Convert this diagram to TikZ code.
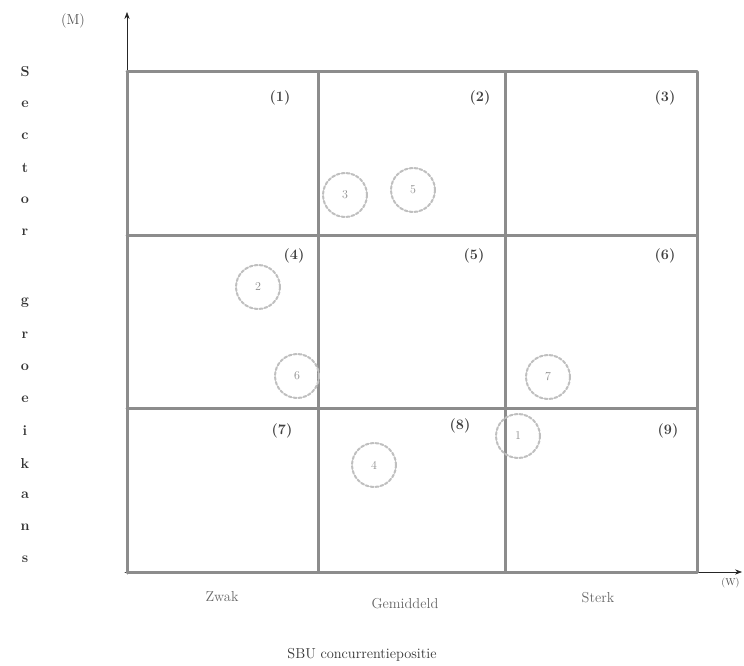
\documentclass[tikz,border=0pt]{standalone}
\usetikzlibrary{arrows.meta, positioning}
\definecolor{gridgray}{HTML}{8C8C8C}
\tikzset{
  >={Stealth[length=7pt]},
  every picture/.style={line cap=round, line join=round},
  axis/.style={->, semithick, black!85},
  cellline/.style={gridgray, line width=3pt},
  celltag/.style={font=\Large\bfseries, black!75},
  % dotted rings round the numbered units
  unit/.style={circle, draw=black!25, densely dashed, line width=2pt, minimum size=44pt, inner sep=0pt, font=\large, text=black!45},
  ticklab/.style={font=\Large, black!60},
  stacklab/.style={font=\Large\bfseries, black!80},
}
\begin{document}
\begin{tikzpicture}[x=1pt, y=-1pt]
  \useasboundingbox (0,0) rectangle (744,666);
  % axes
  \draw[axis] (127,574) -- (127,12);
  \draw[axis] (125,572) -- (742,572);
  \node[font=\Large, black!70] (ylab) at (73,21) {(M)};
  \node[font=\normalsize, black!70, anchor=east] (xlab) at (743,583) {(W)};
  % 3x3 matrix
  \foreach \x in {127,318,505,697}
    \draw[cellline] (\x,72) -- (\x,572);
  \foreach \y in {72,235,408,572}
    \draw[cellline] (127,\y) -- (697,\y);
  % cell numbers
  \node[celltag] (c1) at (280,98) {(1)};
  \node[celltag] (c2) at (480,98) {(2)};
  \node[celltag] (c3) at (665,98) {(3)};
  \node[celltag] (c4) at (294,256) {(4)};
  \node[celltag] (c5) at (474,256) {(5)};
  \node[celltag] (c6) at (665,256) {(6)};
  \node[celltag] (c7) at (282,431) {(7)};
  \node[celltag] (c8) at (460,426) {(8)};
  \node[celltag] (c9) at (668,431) {(9)};
  % business units
  \node[unit] (u1) at (518,436) {1};
  \node[unit] (u2) at (258,287) {2};
  \node[unit] (u3) at (345,195) {3};
  \node[unit] (u4) at (374,465) {4};
  \node[unit] (u5) at (413,190) {5};
  \node[unit] (u6) at (297,376) {6};
  \node[unit] (u7) at (548,377) {7};
  % axis texts
  \node[ticklab] (lo) at (222,597) {Zwak};
  \node[ticklab] (mid) at (405,604) {Gemiddeld};
  \node[ticklab] (hi) at (598,598) {Sterk};
  \node[ticklab, black!80] (xtitle) at (362,655) {SBU concurrentiepositie};
  \foreach \ch [count=\i] in {S,e,c,t,o,r}
    \node[stacklab] (a\i) at (25,{40+32*\i}) {\ch};
  \foreach \ch [count=\i] in {g,r,o,e,i,k,a,n,s}
    \node[stacklab] (b\i) at (25,{271+32*\i}) {\ch};
\end{tikzpicture}
\end{document}
